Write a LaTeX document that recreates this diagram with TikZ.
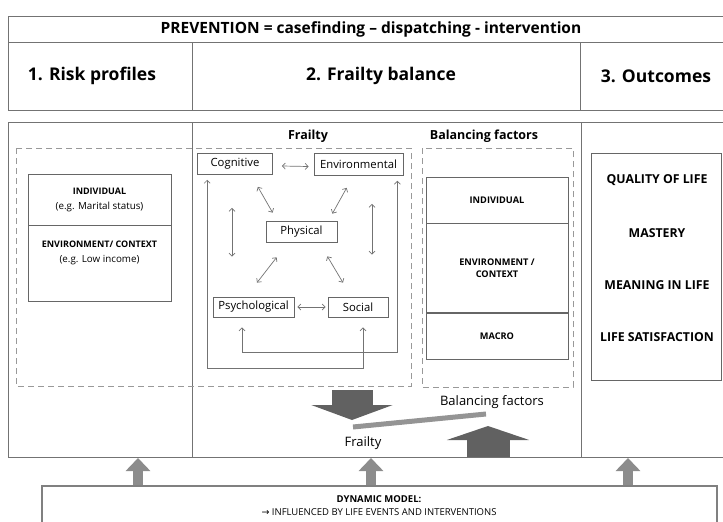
\documentclass[tikz,border=0pt]{standalone}
\usepackage{fontspec}
\setmainfont{Open Sans}
\newfontfamily\symfont{DejaVu Sans}
\usetikzlibrary{arrows.meta,calc,positioning}

\tikzset{
  frame/.style={draw=black!55, line width=0.9pt},
  dashbox/.style={draw=black!40, dash pattern=on 6pt off 4pt, line width=0.9pt},
  head/.style={font=\bfseries\fontsize{17.5}{20}\selectfont},
  ttl/.style={font=\bfseries\fontsize{12.5}{14}\selectfont},
  fbox/.style={draw=black!60, line width=0.7pt, inner sep=0pt,
    font=\fontsize{11.3}{13}\selectfont},
  colbox/.style={draw=black!60, line width=0.7pt, inner sep=0pt, align=center,
    minimum width=142, font=\fontsize{9.8}{15}\selectfont},
  otxt/.style={font=\bfseries\fontsize{12.3}{14}\selectfont},
  dbl/.style={black!55, line width=0.7pt,
    {Straight Barb[length=3pt,width=6pt]}-{Straight Barb[length=3pt,width=6pt]}},
  fatup/.style={black!45, line width=10pt, -{Triangle[length=13pt,width=24pt]}},
  balarrow/.style={black!62, line width=#1}
}

\begin{document}
\begin{tikzpicture}[x=1pt,y=-1pt]
  \clip (0,0) rectangle (723,522);

  % banner
  \draw[frame] (8,16) rectangle (740,110);
  \draw[frame] (8,42) -- (740,42);
  \draw[frame] (192,42) -- (192,110);
  \draw[frame] (580,42) -- (580,110);
  \node[font=\bfseries\fontsize{15.5}{17}\selectfont] (prev) at (371,29)
    {PREVENTION = casefinding -- dispatching - intervention};
  \node[head] (risk) at (92,76) {1. Risk profiles};
  \node[head] (bal) at (381,76) {2. Frailty balance};
  \node[head] (out) at (656,76) {3. Outcomes};

  % main panel
  \draw[frame] (8,122) rectangle (740,457);
  \draw[frame] (192,122) -- (192,457);
  \draw[frame] (581,122) -- (581,457);
  \draw[dashbox] (16,148) rectangle (411,386);
  \draw[dashbox] (422,148) rectangle (573,387);

  % risk profiles
  \node[colbox, minimum width=143, minimum height=51] (rind) at (99.5,199.5)
    {\textbf{\fontsize{9}{15}\selectfont INDIVIDUAL}\\(e.g. Marital status)};
  \node[colbox, minimum width=143, minimum height=76, below=0pt of rind] (renv)
    {\textbf{\fontsize{9}{15}\selectfont ENVIRONMENT/ CONTEXT}\\(e.g. Low income)\\[8pt]};

  % frailty
  \node[ttl] (frt) at (308,136) {Frailty};
  \node[ttl] (bft) at (484,136) {Balancing factors};

  \node[fbox, minimum width=75, minimum height=21] (cog) at (235,164) {Cognitive};
  \node[fbox, minimum width=89, minimum height=22] (env) at (358.5,164.5) {Environmental};
  \node[fbox, minimum width=71, minimum height=21] (phys) at (301.5,231.5) {Physical};
  \node[fbox, minimum width=81, minimum height=20] (psych) at (253.5,307) {Psychological};
  \node[fbox, minimum width=60, minimum height=20] (soc) at (358,307) {Social};

  \draw[dbl] ($(cog.east)+(9,2)$) -- ($(env.west)+(-5,2)$);
  \draw[dbl] ($(cog.south east)+(-15,12)$) -- ($(phys.north west)+(7,-8)$);
  \draw[dbl] ($(env.south west)+(33,12)$) -- ($(phys.north east)+(-5,-7)$);
  \draw[dbl] ($(cog.south)+(-3,33)$) -- ($(psych.north)+(-21.5,-40)$);
  \draw[dbl] ($(env.south)+(13.5,28)$) -- ($(soc.north)+(14,-42)$);
  \draw[dbl] ($(phys.south west)+(11,15)$) -- ($(psych.north)+(3.5,-14)$);
  \draw[dbl] ($(phys.south east)+(-10,14)$) -- ($(soc.north)+(-15,-14)$);
  \draw[dbl] ($(psych.east)+(3,0)$) -- ($(soc.west)+(-2,0)$);
  % feedback loops
  \draw[dbl] ($(cog.south west)+(10,5)$) |- ($(soc.south)+(5,51)$) -- ($(soc.south)+(5,10)$);
  \draw[dbl] ($(env.south east)+(-6,5)$) |- ($(psych.south)+(-11.5,35)$) -- ($(psych.south)+(-11.5,10)$);

  % balancing factors
  \node[colbox, minimum height=46, font=\bfseries\fontsize{9.2}{12}\selectfont] (bind) at (497,200) {INDIVIDUAL};
  \node[colbox, minimum height=89, font=\bfseries\fontsize{9.2}{12}\selectfont, below=0pt of bind] (benv) {ENVIRONMENT /\\CONTEXT};
  \node[colbox, minimum height=46, font=\bfseries\fontsize{9.2}{12}\selectfont, below=0pt of benv] (bmac) {MACRO};

  % outcomes
  \node[draw=black!60, line width=0.7pt, minimum width=130, minimum height=227] (obox) at (656,266.5) {};
  \foreach \t/\y/\n in {QUALITY OF LIFE/180/qol, MASTERY/233/mas,
    MEANING IN LIFE/285/mil, LIFE SATISFACTION/337/lsa}
    \node[otxt] (\n) at (657,\y) {\t};

  % the balance
  \coordinate (fdown) at (352,390);
  \coordinate (bfup) at (488,457);
  \coordinate (beamL) at (353,427);
  \coordinate (beamR) at (486,414);
  \draw[balarrow=41pt, -{Triangle[length=15pt,width=81pt]}] (fdown) -- ++(0,30);
  \draw[balarrow=43pt, -{Triangle[length=14pt,width=82pt]}] (bfup) -- ++(0,-31);
  \draw[black!42, line width=5pt] (beamL) -- (beamR);
  \node[font=\fontsize{13}{15}\selectfont] (frl) at (363,443) {Frailty};
  \node[font=\fontsize{13}{15}\selectfont] (bfl) at (492,402) {Balancing factors};

  % dynamic model
  \node[draw=black!50, line width=2.4pt, minimum width=675, minimum height=60,
    anchor=north west] (dyn) at (41,485) {};
  \node[align=center, font=\fontsize{9.5}{13}\selectfont] (dyntxt) at (379,506)
    {\textbf{DYNAMIC MODEL:}\\{\symfont →} INFLUENCED BY LIFE EVENTS AND INTERVENTIONS};
  \foreach \x in {97,330,587}
    \draw[fatup] ($(dyn.north west)+(\x,0)$) -- ++(0,-27);
\end{tikzpicture}
\end{document}
